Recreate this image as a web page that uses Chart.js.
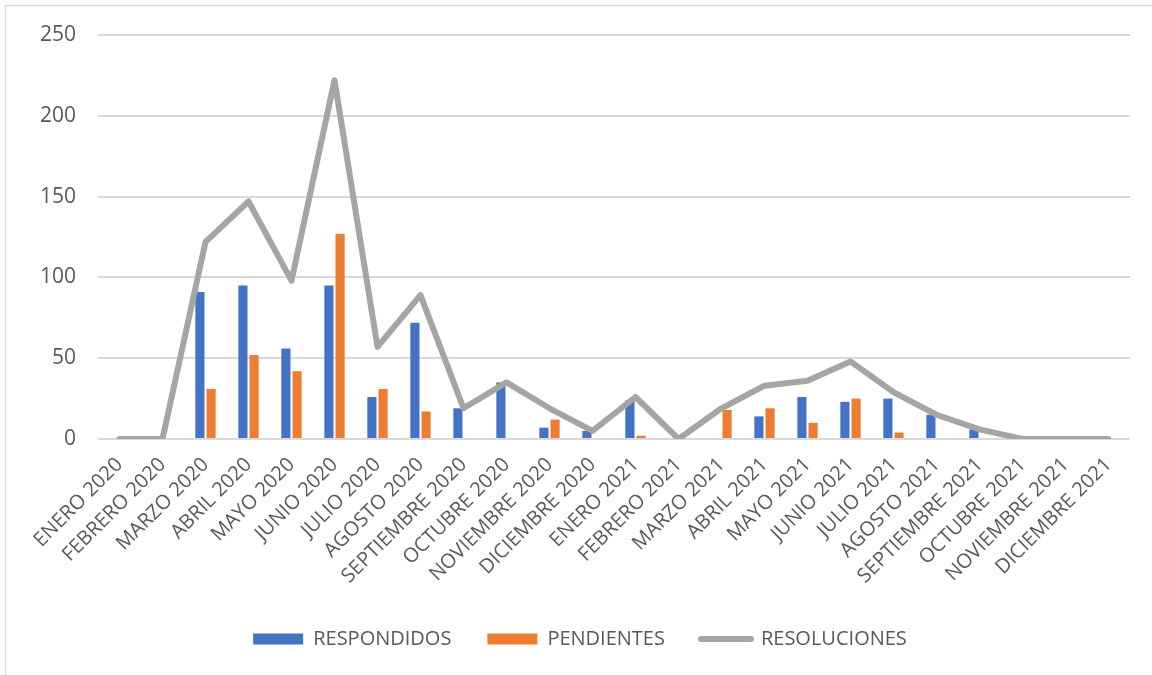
<!DOCTYPE html>
<html lang="es">
<head>
<meta charset="utf-8">
<title>Respondidos, pendientes y resoluciones 2020–2021</title>
<script src="https://cdn.jsdelivr.net/npm/chart.js@4/dist/chart.umd.min.js"></script>
<style>
  html, body { margin: 0; padding: 0; background: #ffffff; }
  #wrap { position: relative; width: 1152px; height: 675px; }
</style>
</head>
<body>
<div id="wrap"><canvas id="chart" width="1152" height="675"></canvas></div>
<script>
// Month labels
const meses = [
  'ENERO 2020', 'FEBRERO 2020', 'MARZO 2020', 'ABRIL 2020', 'MAYO 2020', 'JUNIO 2020',
  'JULIO 2020', 'AGOSTO 2020', 'SEPTIEMBRE 2020', 'OCTUBRE 2020', 'NOVIEMBRE 2020', 'DICIEMBRE 2020',
  'ENERO 2021', 'FEBRERO 2021', 'MARZO 2021', 'ABRIL 2021', 'MAYO 2021', 'JUNIO 2021',
  'JULIO 2021', 'AGOSTO 2021', 'SEPTIEMBRE 2021', 'OCTUBRE 2021', 'NOVIEMBRE 2021', 'DICIEMBRE 2021'
];

// Monthly counts
const respondidos = [0, 0, 91, 95, 56, 95, 26, 72, 19, 35, 7, 5, 24, 0, 0, 14, 26, 23, 25, 15, 6, 0, 0, 0];
const pendientes  = [0, 0, 31, 52, 42, 127, 31, 17, 0, 0, 12, 0, 2, 0, 18, 19, 10, 25, 4, 0, 0, 0, 0, 0];
const resoluciones = [0, 0, 122, 147, 98, 222, 57, 89, 19, 35, 19, 5, 26, 0, 19, 33, 36, 48, 29, 15, 6, 0, 0, 0];

// Y axis ticks
const yTicks = [0, 50, 100, 150, 200, 250];

const AZUL = '#4472C4';
const NARANJA = '#ED7D31';
const GRIS = '#A5A5A5';
const TEXTO = '#595959';
const FUENTE = "'Open Sans', 'DejaVu Sans', sans-serif";

// White page with a thin frame around the chart
const marco = {
  id: 'marco',
  beforeDraw(chart) {
    const ctx = chart.ctx;
    ctx.save();
    ctx.fillStyle = '#ffffff';
    ctx.fillRect(0, 0, chart.width, chart.height);
    ctx.strokeStyle = '#D9D9D9';
    ctx.lineWidth = 1.5;
    ctx.strokeRect(5.5, 5.5, 1160, 680);
    ctx.restore();
  }
};

new Chart(document.getElementById('chart'), {
  data: {
    labels: meses,
    datasets: [
      {
        type: 'bar',
        label: 'RESPONDIDOS',
        data: respondidos,
        backgroundColor: AZUL,
        borderWidth: 0,
        order: 1,
        categoryPercentage: 0.52,
        barPercentage: 0.82
      },
      {
        type: 'bar',
        label: 'PENDIENTES',
        data: pendientes,
        backgroundColor: NARANJA,
        borderWidth: 0,
        order: 1,
        categoryPercentage: 0.52,
        barPercentage: 0.82
      },
      {
        type: 'line',
        label: 'RESOLUCIONES',
        data: resoluciones,
        borderColor: GRIS,
        backgroundColor: GRIS,
        borderWidth: 6,
        borderJoinStyle: 'round',
        borderCapStyle: 'round',
        pointRadius: 0,
        pointHoverRadius: 0,
        tension: 0,
        fill: false,
        order: 0
      }
    ]
  },
  options: {
    responsive: false,
    animation: false,
    devicePixelRatio: 1,
    layout: { padding: { top: 35, right: 22, left: 30, bottom: 16 } },
    plugins: {
      tooltip: { enabled: false },
      legend: {
        position: 'bottom',
        labels: {
          font: { family: FUENTE, size: 20 },
          color: TEXTO,
          padding: 36,
          usePointStyle: true,
          pointStyleWidth: 50,
          boxHeight: 11,
          sort: (a, b) => a.datasetIndex - b.datasetIndex,
          generateLabels(chart) {
            return chart.data.datasets.map((ds, i) => {
              const esLinea = ds.type === 'line';
              return {
                text: ds.label,
                datasetIndex: i,
                fillStyle: esLinea ? GRIS : ds.backgroundColor,
                strokeStyle: esLinea ? GRIS : ds.backgroundColor,
                lineWidth: esLinea ? 6 : 0,
                lineCap: 'round',
                pointStyle: esLinea ? 'line' : 'rect',
                fontColor: TEXTO,
                hidden: false
              };
            });
          }
        }
      }
    },
    scales: {
      x: {
        grid: { display: false },
        border: { display: false },
        ticks: {
          autoSkip: false,
          minRotation: 45,
          maxRotation: 45,
          padding: 6,
          color: TEXTO,
          font: { family: FUENTE, size: 20 }
        },
        afterFit(scale) { scale.height = 154; }
      },
      y: {
        min: 0,
        max: 250,
        afterBuildTicks(scale) { scale.ticks = yTicks.map(v => ({ value: v })); },
        grid: { color: '#D9D9D9', lineWidth: 2, drawTicks: false },
        border: { display: false },
        ticks: {
          padding: 22,
          color: TEXTO,
          font: { family: FUENTE, size: 21 }
        },
        afterFit(scale) { scale.width = 68; }
      }
    }
  },
  plugins: [marco]
});
</script>
</body>
</html>
